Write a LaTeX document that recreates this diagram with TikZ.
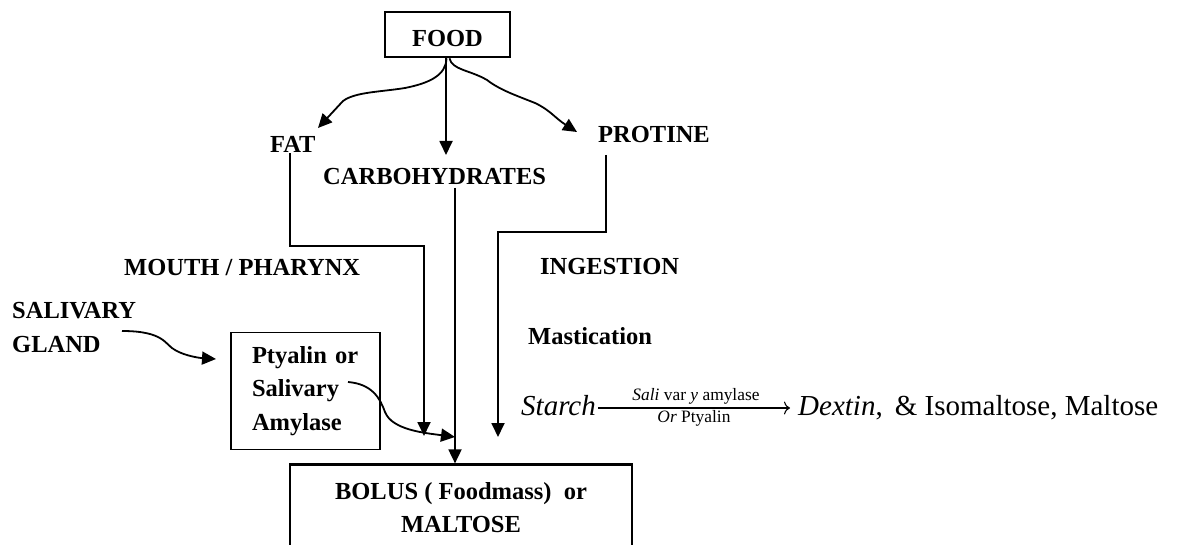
\documentclass[tikz,border=0pt]{standalone}
\usepackage{fontspec}
\setmainfont{Liberation Serif}
\usetikzlibrary{arrows.meta}
\begin{document}
\begin{tikzpicture}[x=1pt,y=-1pt,
  bf/.style={font=\fontsize{24.5}{33.5}\selectfont\bfseries, inner sep=0pt},
  lbl/.style={bf, anchor=base west},
  conn/.style={line width=1.8pt, -{Triangle[length=14pt,width=13pt]}},
  eqf/.style={font=\fontsize{29}{34}\selectfont, inner sep=0pt, anchor=base west},
  small/.style={font=\fontsize{17.4}{20}\selectfont, inner sep=0pt, anchor=base}]
\useasboundingbox (0,0) rectangle (1184,545);
\clip (0,0) rectangle (1184,545);

% nodes
\node[bf, draw, line width=2.7pt, minimum width=125pt, text height=31pt, text depth=6pt, inner ysep=4pt] (food) at (447.5,34.5) {FOOD};
\node[lbl] (fat) at (270,153) {FAT};
\node[lbl] (carb) at (323,185) {CARBOHYDRATES};
\node[lbl] (prot) at (598,143) {PROTINE};
\node[lbl] (mouth) at (124,276) {MOUTH / PHARYNX};
\node[lbl] (ing) at (540,275) {INGESTION};
\node[lbl] (mast) at (528,345) {Mastication};
\node[bf, align=left, anchor=north west] (gland) at (12,302.5) {SALIVARY\\GLAND};
\node[bf, draw, line width=1.5pt, minimum width=149pt, minimum height=117pt, text width=107pt, align=left] (pty) at (305.5,391) {Ptyalin or\\Salivary\\Amylase};
\node[bf, draw, line width=2.2pt, minimum width=342pt, minimum height=86pt, align=center] (bolus) at (461,507.5) {BOLUS ( Foodmass)\ \ or\\MALTOSE};

% equation
\node[eqf] (starch) at (521,415) {\itshape Starch};
\node[eqf] (dextin) at (798,415) {\textit{Dextin}, \,\& Isomaltose, Maltose};
\node[small] (enz) at (696,400) {\textit{Sali} var \textit{y} amylase};
\node[small] (orp) at (694,422) {\textit{Or} Ptyalin};
\draw[line width=1.1pt, -{To[length=6pt,width=13pt]}, shorten <=2pt, shorten >=8pt]
  ([yshift=7pt]starch.base east) -- ([yshift=7pt]dextin.base west);

% coordinates
\coordinate (carbin) at (446,155);
\coordinate (fattip) at (318,128);
\coordinate (prottip) at (577,132);
\coordinate (fatbend) at (424,246);
\coordinate (fatend) at (424,436);
\coordinate (carbx) at (455,188);
\coordinate (protx) at (606,155);
\coordinate (protbend) at (498,232);
\coordinate (protend) at (498,437);
\coordinate (glandout) at (122,331);
\coordinate (ptyin) at (216,359);
\coordinate (ptyout) at (348,382);
\coordinate (amytip) at (455,437);

% connectors from FOOD
\draw[conn] (food.south -| carbin) -- (carbin);
\draw[conn] ([xshift=-1pt]food.south) .. controls (446,75) and (430,83) .. (405,88)
  .. controls (380,92) and (355,92) .. (343,101) -- (fattip);
\draw[conn] ([xshift=2pt]food.south) .. controls (452,70) and (470,70) .. (487,80)
  .. controls (500,90) and (515,95) .. (535,103) .. controls (550,110) and (555,118) .. (prottip);

% down lines
\draw[conn] (fat.south -| 290,0) |- (fatbend) -- (fatend);
\draw[conn] (carbx) -- (carbx |- bolus.north);
\draw[conn] (protx) |- (protbend) -- (protend);

% salivary curves
\draw[conn] (glandout) .. controls (165,331) and (165,345) .. (175,350)
  .. controls (185,356) and (200,358) .. (ptyin);
\draw[conn] (ptyout) .. controls (372,384) and (380,398) .. (385,412)
  .. controls (392,430) and (425,433) .. (amytip);
\end{tikzpicture}
\end{document}
